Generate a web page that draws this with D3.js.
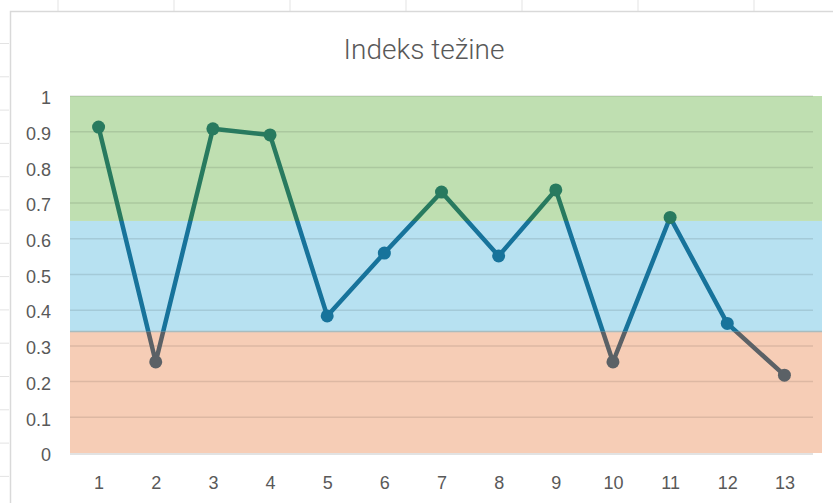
<!DOCTYPE html>
<html>
<head>
<meta charset="utf-8">
<script src="https://cdn.jsdelivr.net/npm/d3@7"></script>
<style>
  body { margin: 0; background: #fff; }
  svg { display: block; }
</style>
</head>
<body>
<div id="chart"></div>
<script>
// data
const categories = ["1", "2", "3", "4", "5", "6", "7", "8", "9", "10", "11", "12", "13"];
const values = [0.913, 0.255, 0.908, 0.891, 0.384, 0.560, 0.731, 0.552, 0.737, 0.255, 0.660, 0.363, 0.218];
const yTicks = [0, 0.1, 0.2, 0.3, 0.4, 0.5, 0.6, 0.7, 0.8, 0.9, 1];
const bandLimits = [0, 0.34, 0.65, 1];
const bandFills = ["#f6cdb6", "#b7e1f1", "#bfdfb1"];
const lineColors = ["#5b6166", "#17739b", "#287a5f"];

const width = 833, height = 503;
const plot = {left: 70, right: 813, top: 96, bottom: 453};

const svg = d3.select("#chart").append("svg")
    .attr("width", width)
    .attr("height", height);

// spreadsheet gridlines around the chart object
svg.append("g").selectAll("line")
    .data(d3.range(7))
    .enter().append("line")
    .attr("x1", i => 58 + i * 116).attr("x2", i => 58 + i * 116)
    .attr("y1", 0).attr("y2", 11)
    .attr("stroke", "#e3e3e3");
svg.append("g").selectAll("line")
    .data(d3.range(14))
    .enter().append("line")
    .attr("x1", 0).attr("x2", 9)
    .attr("y1", i => 43.5 + i * 33.3).attr("y2", i => 43.5 + i * 33.3)
    .attr("stroke", "#e3e3e3");

// chart frame
svg.append("rect")
    .attr("x", 10.5).attr("y", 11.5)
    .attr("width", width).attr("height", height)
    .attr("fill", "#fff")
    .attr("stroke", "#d9d9d9")
    .attr("stroke-width", 1.5);

// title
svg.append("text")
    .attr("x", 424).attr("y", 59)
    .attr("text-anchor", "middle")
    .style("font-family", "Roboto, 'Liberation Sans', sans-serif")
    .style("font-size", "28px")
    .style("font-weight", 300)
    .style("fill", "#595959")
    .text("Indeks težine");

// scales
const x = d3.scalePoint()
    .domain(categories)
    .range([plot.left, plot.right])
    .padding(0.5);

const y = d3.scaleLinear()
    .domain([0, 1])
    .range([plot.bottom, plot.top]);

// coloured bands
const bands = d3.range(bandFills.length).map(i => ({lo: bandLimits[i], hi: bandLimits[i + 1], fill: bandFills[i], color: lineColors[i]}));

svg.append("g").selectAll("rect")
    .data(bands)
    .enter().append("rect")
    .attr("x", plot.left)
    .attr("y", d => y(d.hi))
    .attr("width", plot.right - plot.left + 9)
    .attr("height", d => y(d.lo) - y(d.hi))
    .attr("fill", d => d.fill);

// edge between orange and blue bands
svg.append("line")
    .attr("x1", plot.left).attr("x2", plot.right + 9)
    .attr("y1", y(bandLimits[1])).attr("y2", y(bandLimits[1]))
    .attr("stroke", "#a9bcbf").attr("stroke-width", 1.5);

// gridlines
svg.append("g").selectAll("line")
    .data(yTicks.filter(d => d > 0))
    .enter().append("line")
    .attr("x1", plot.left).attr("x2", plot.right)
    .attr("y1", d => y(d)).attr("y2", d => y(d))
    .attr("stroke", "#000")
    .attr("stroke-opacity", 0.1)
    .attr("stroke-width", 1.5);

// baseline
svg.append("line")
    .attr("x1", plot.left).attr("x2", plot.right)
    .attr("y1", y(0) + 1).attr("y2", y(0) + 1)
    .attr("stroke", "#d9d9d9").attr("stroke-width", 1.5);

// axes
const yAxis = svg.append("g")
    .attr("transform", "translate(" + (plot.left - 19) + ",2)")
    .call(d3.axisLeft(y).tickValues(yTicks).tickSize(0).tickPadding(0).tickFormat(d3.format("~g")));
yAxis.select(".domain").remove();

const xAxis = svg.append("g")
    .attr("transform", "translate(0," + (plot.bottom + 23) + ")")
    .call(d3.axisBottom(x).tickSize(0).tickPadding(0));
xAxis.select(".domain").remove();

svg.selectAll(".tick text")
    .style("font-family", "'Liberation Sans', Arial, sans-serif")
    .style("font-size", "18px")
    .style("fill", "#595959");

// line, coloured by band through clip paths
const defs = svg.append("defs");
bands.forEach((b, i) => {
    defs.append("clipPath")
        .attr("id", "clip" + i)
        .append("rect")
        .attr("x", 0)
        .attr("y", i === bands.length - 1 ? 0 : y(b.hi))
        .attr("width", width)
        .attr("height", (i === 0 ? height : y(b.lo)) - (i === bands.length - 1 ? 0 : y(b.hi)));
});

const line = d3.line()
    .x((d, i) => x(categories[i]))
    .y(d => y(d));

svg.append("g").selectAll("path")
    .data(bands)
    .enter().append("path")
    .attr("d", line(values))
    .attr("clip-path", (d, i) => "url(#clip" + i + ")")
    .attr("fill", "none")
    .attr("stroke", d => d.color)
    .attr("stroke-width", 4.5)
    .attr("stroke-linejoin", "round");

// markers
const bandOf = v => bands.find(b => v < b.hi) || bands[bands.length - 1];

svg.append("g").selectAll("circle")
    .data(values)
    .enter().append("circle")
    .attr("cx", (d, i) => x(categories[i]))
    .attr("cy", d => y(d))
    .attr("r", 6.5)
    .attr("fill", d => bandOf(d).color);
</script>
</body>
</html>
